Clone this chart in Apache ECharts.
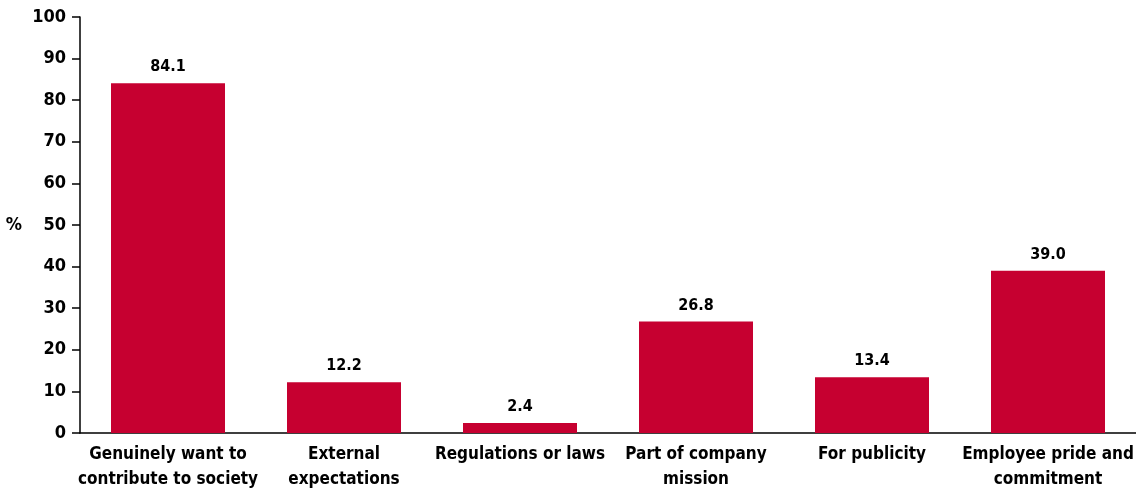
<!DOCTYPE html>
<html><head><meta charset="utf-8">
<script src="https://cdn.jsdelivr.net/npm/echarts@6/dist/echarts.min.js"></script>
<style>html,body{margin:0;padding:0;background:#fff}#c{width:1136px;height:491px}</style>
</head><body><div id="c"></div>
<script>
const categories = ["Genuinely want to\ncontribute to society","External\nexpectations","Regulations or laws","Part of company\nmission","For publicity","Employee pride and\ncommitment"];
const values = [84.1, 12.2, 2.4, 26.8, 13.4, 39.0];
const yTicks = {min: 0, max: 100, interval: 10};
const FONT = '"DejaVu Sans Condensed","Liberation Sans Narrow","Liberation Sans",sans-serif';
const chart = echarts.init(document.getElementById('c'));
chart.setOption({
  animation: false,
  grid: {left: 80, right: 0, top: 17, bottom: 58, outerBoundsMode: 'none', containLabel: false},
  xAxis: {
    type: 'category', data: categories,
    axisLine: {lineStyle: {color: '#000', width: 1.5}},
    axisTick: {show: false},
    axisLabel: {color: '#000', fontFamily: FONT, fontWeight: 'bold', fontSize: 17, lineHeight: 25, margin: 9, interval: 0}
  },
  yAxis: {
    type: 'value', min: yTicks.min, max: yTicks.max, interval: yTicks.interval,
    name: '%', nameLocation: 'middle', nameRotate: 0, nameGap: 58,
    nameTextStyle: {color: '#000', fontFamily: FONT, fontWeight: 'bold', fontSize: 18},
    splitLine: {show: false},
    axisLine: {show: true, lineStyle: {color: '#000', width: 1.5}},
    axisTick: {show: true, length: 8, lineStyle: {color: '#000', width: 1.5}},
    axisLabel: {color: '#000', fontFamily: FONT, fontWeight: 'bold', fontSize: 18, margin: 14}
  },
  series: [{
    type: 'bar', data: values, barWidth: 114,
    itemStyle: {color: '#C60030'},
    label: {show: true, position: 'top', distance: 8, color: '#000', fontFamily: FONT, fontWeight: 'bold', fontSize: 16,
      formatter: p => p.value.toFixed(1)}
  }]
});
</script></body></html>
